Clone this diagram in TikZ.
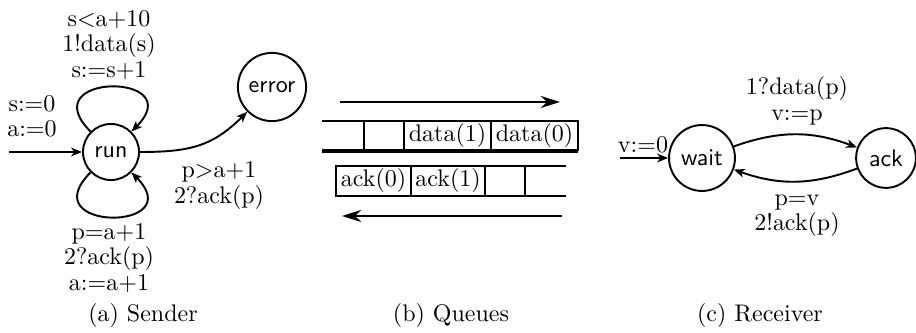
\documentclass[tikz,border=0pt]{standalone}
\usetikzlibrary{arrows.meta}
\begin{document}
\begin{tikzpicture}[x=0.41667pt,y=-0.41667pt,
  state/.style={circle,draw,thick,font=\sffamily},
  trans/.style={thick,-{Stealth[length=4.5pt,width=3.6pt,inset=1.3pt]}},
  lbl/.style={align=center,inner sep=0pt},
  cell/.style={line width=1.1pt},
  flow/.style={thick,-{Stealth[length=8pt,width=5pt,inset=2.5pt]}}]
\useasboundingbox (0,0) rectangle (916,333);

% ---- Sender automaton ----
\node[state] (run) at (111,152) {run};
\node[state] (error) at (272,87) {error};
\coordinate (sstart) at (9,152);
\draw[trans] (sstart) -- (run);
\node[lbl] (sinit) at (32,116.5) {s:=0\\[-1.4pt]a:=0};
\draw[trans] (run) to[out=135,in=45,distance=35pt] (run);
\node[lbl] (sendlbl) at (109,45) {s<a+10\\[-1.4pt]1!data(s)\\[-1.4pt]s:=s+1};
\draw[trans] (run) to[out=-135,in=-45,distance=35pt] (run);
\node[lbl] (recvlbl) at (109,258) {p=a+1\\[-1.4pt]2?ack(p)\\[-1.4pt]a:=a+1};
\draw[trans] (run) to[out=0,in=225,looseness=1.1] (error);
\node[lbl] (errlbl) at (219,185.5) {p>a+1\\[-1.4pt]2?ack(p)};
\node[anchor=base] (capa) at (143,322) {(a) Sender};

% ---- Queues ----
\coordinate (fwdA) at (340,102);
\coordinate (fwdB) at (560,102);
\draw[flow] (fwdA) -- (fwdB);
\draw[cell] (322,121) -- (578,121) -- (578,151);
\draw[line width=1.5pt] (578,151) -- (322,151);
\foreach \x in {364,404,491} \draw[cell] (\x,121) -- (\x,151);
\node (d1) at (447.5,136) {data(1)};
\node (d0) at (534.5,136) {data(0)};

\draw[cell] (566,166) -- (336,166) -- (336,196) -- (566,196);
\foreach \x in {411,485,525} \draw[cell] (\x,166) -- (\x,196);
\node (a0) at (373.5,181) {ack(0)};
\node (a1) at (448,181) {ack(1)};
\coordinate (bwdA) at (562,216);
\coordinate (bwdB) at (342,216);
\draw[flow] (bwdA) -- (bwdB);
\node[anchor=base] (capb) at (451,322) {(b) Queues};

% ---- Receiver automaton ----
\node[state] (wait) at (702,158) {wait};
\node[state] (ack) at (886,158) {ack};
\coordinate (rstart) at (620,158);
\draw[trans] (rstart) -- (wait);
\node[lbl] (rinit) at (643,145) {v:=0};
\draw[trans] (wait) to[bend left=20] (ack);
\draw[trans] (ack) to[bend left=20] (wait);
\node[lbl] (datalbl) at (797,101) {1?data(p)\\[-1.4pt]v:=p};
\node[lbl] (acklbl) at (797,215.5) {p=v\\[-1.4pt]2!ack(p)};
\node[anchor=base] (capc) at (760,322) {(c) Receiver};
\end{tikzpicture}
\end{document}
